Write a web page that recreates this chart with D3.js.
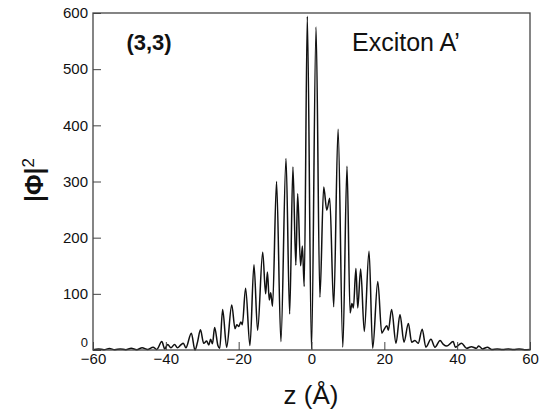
<!DOCTYPE html>
<html><head><meta charset="utf-8">
<script src="https://cdn.jsdelivr.net/npm/d3@7"></script>
<style>body{margin:0;background:#fff}svg{display:block}text{font-family:"Liberation Sans",Arial,sans-serif}</style>
</head><body><svg id="c" width="543" height="418"></svg>
<script>
const zValues = [-60,-58.5,-57,-55.5,-54,-52.5,-51,-49.5,-48,-46.5,-45,-43.5,-42.5,-41.1,-40.3,-39.5,-38.6,-37.6,-36.8,-35.9,-35.2,-34.5,-33,-32,-31.3,-30.5,-29.6,-28.8,-28.2,-27.7,-27.2,-26.6,-25.7,-25.2,-24.4,-23.3,-21.9,-21.0,-20.5,-20.0,-19.4,-19.0,-18.1,-16.9,-15.8,-14.8,-13.4,-12.6,-12.1,-11.6,-11.2,-10.7,-9.6,-8.4,-7.0,-6.0,-5.1,-4.3,-3.8,-3.0,-2.5,-2.0,-1.15,0,1.25,2.3,3.35,4.2,5.0,6.1,7.3,8.6,9.75,10.6,11.1,11.5,12.2,12.7,13.5,14.5,15.8,16.8,18.2,19.3,19.8,20.7,21.1,22.0,23.2,24.3,25.4,26.6,27.5,28.4,29.3,30.4,31.4,32.8,33.9,35.3,36.2,37.2,38.9,39.5,41.2,42.6,43.9,45.3,45.9,47,48.3,49.5,51,52.5,54,55.5,57,58.5,60];
const phiValues = [0.5,2,0.5,2.5,0.5,2,0.5,3,0.5,4,1,5,1,15,2,10,4,10,4,9,12,4,30,0,14,36,12,16,9,19,11,40,8,3,72,5,80,38,45,42,50,45,110,8,152,35,174,100,139,89,102,78,300,15,341,64,326,151,278,150,185,113,594,1,575,94,290,249,270,77,393,5,327,66,83,75,145,75,144,33,176,3,122,30,35,43,35,72,12,63,14,47,14,17,12,37,5,19,5,17,10,7,15,5,12,3,6,3,7,2,5,1,2,1,2,1,2,0.5,1];
const xTicks = [-60,-40,-20,0,20,40,60];
const yTicks = [0,100,200,300,400,500,600];
const labelPanel = "(3,3)";
const labelState = "Exciton A\u2019";

const svg = d3.select("#c");
const L=93,R=530,T=13,B=350;
const x = d3.scaleLinear().domain([-60,60]).range([L,R]);
const y = d3.scaleLinear().domain([0,600]).range([B,T]);

const data = zValues.map((z,i)=>({z, v:phiValues[i]}));
svg.append("path").datum(data)
  .attr("fill","none").attr("stroke","#111").attr("stroke-width",1.5).attr("stroke-linejoin","round")
  .attr("d", d3.line().x(d=>x(d.z)).y(d=>y(d.v)).curve(d3.curveMonotoneX));

const ax = svg.append("g").attr("transform",`translate(0,${B})`)
  .call(d3.axisBottom(x).tickValues(xTicks).tickSizeInner(-8).tickSizeOuter(0).tickPadding(3).tickFormat(d3.format("d")));
const ay = svg.append("g").attr("transform",`translate(${L},0)`)
  .call(d3.axisLeft(y).tickValues(yTicks).tickSizeInner(-8).tickSizeOuter(0).tickPadding(5).tickFormat(d3.format("d")));
[ax,ay].forEach(g=>{
  g.select(".domain").remove();
  g.selectAll(".tick line").attr("stroke","#444").attr("stroke-width",1);
  g.selectAll(".tick text").attr("fill","#111").style("font-size","15px").style("font-family","Liberation Sans, Arial, sans-serif");
});
ay.selectAll(".tick").filter(d=>d===0).select("text").attr("dy","-0.3em").style("font-size","13px");

svg.append("rect").attr("x",L).attr("y",T).attr("width",R-L).attr("height",B-T)
  .attr("fill","none").attr("stroke","#444").attr("stroke-width",1.3);

svg.append("text").attr("x",149).attr("y",50).attr("text-anchor","middle")
  .style("font-size","22px").style("font-weight","bold").attr("fill","#111").text(labelPanel);
svg.append("text").attr("x",352).attr("y",51)
  .style("font-size","25px").attr("fill","#111").text(labelState);

svg.append("text").attr("x",311).attr("y",404).attr("text-anchor","middle")
  .style("font-size","26px").attr("fill","#111").text("z (Å)");

const yt = svg.append("text").attr("transform","translate(43,202) rotate(-90)")
  .style("font-size","25px").attr("fill","#111");
yt.append("tspan").style("font-weight","bold").text("|Φ|");
yt.append("tspan").attr("dy","-9").style("font-size","17px").text("2");
</script></body></html>
